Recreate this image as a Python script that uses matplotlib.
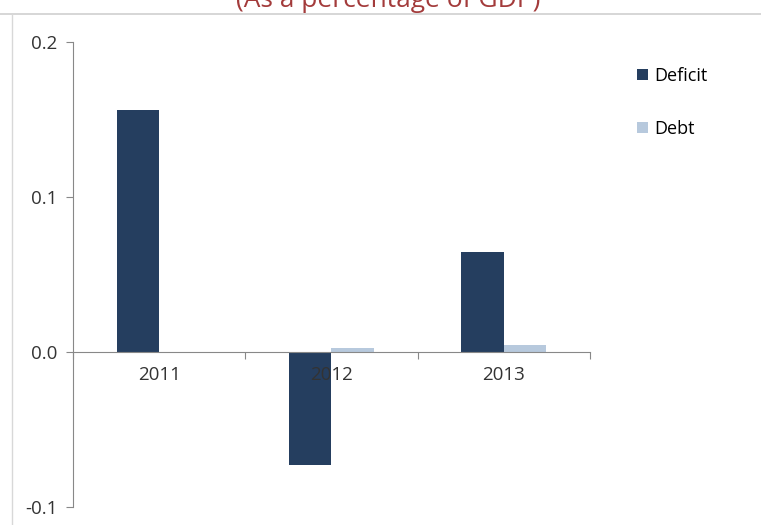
import matplotlib
matplotlib.use("Agg")
import matplotlib.pyplot as plt
import numpy as np
from matplotlib.lines import Line2D

years = ["2011", "2012", "2013"]
deficit = [0.156, -0.073, 0.0645]
debt = [0.0, 0.0028, 0.0045]
yticks = [-0.1, 0.0, 0.1, 0.2]

plt.rcParams['font.family'] = ['Open Sans', 'DejaVu Sans']

fig = plt.figure(figsize=(7.61, 5.25), dpi=100)
ax = fig.add_axes([0.0959, 0.0343, 0.775 - 0.0959, 0.92 - 0.0343])

x = np.arange(len(years))
w = 0.245
ax.bar(x - w / 2, deficit, w, color="#253E5F", label="Deficit")
ax.bar(x + w / 2, debt, w, color="#B7C9DD", label="Debt")

ax.set_xlim(-0.5, 2.5)
ax.set_ylim(-0.1, 0.2)
ax.set_yticks(yticks)
ax.set_yticklabels([f"{v:.1f}" for v in yticks])
ax.tick_params(axis="y", length=5, color="#888888", pad=6, labelsize=13.5, labelcolor="#333333")

ax.set_xticks([-0.5, 0.5, 1.5, 2.5])
ax.set_xticklabels([])
ax.tick_params(axis="x", which="major", length=5, color="#888888", direction="out")
ax.set_xticks(x, minor=True)
ax.set_xticklabels(years, minor=True)
ax.tick_params(axis="x", which="minor", length=0, pad=10, labelsize=13.5, labelcolor="#333333")

for s in ["top", "right"]:
    ax.spines[s].set_visible(False)
ax.spines["bottom"].set_position(("data", 0))
ax.spines["bottom"].set_color("#888888")
ax.spines["left"].set_color("#888888")

ax.legend(loc="upper left", bbox_to_anchor=(1.06, 0.982), frameon=False,
          handlelength=0.6, handleheight=0.6, handletextpad=0.35,
          labelspacing=1.95, fontsize=13)

fig.text(0.51, 1 - 7 / 525, "(As a percentage of GDP)", ha="center", va="baseline",
         fontsize=19, color="#A33B3B")
fig.add_artist(Line2D([0, 1], [1 - 14 / 525] * 2, color="#D0D0D0", lw=1.2))
fig.add_artist(Line2D([12 / 761] * 2, [0, 1 - 14 / 525], color="#D8D8D8", lw=1.0))

fig.savefig("out.png", dpi=100)
